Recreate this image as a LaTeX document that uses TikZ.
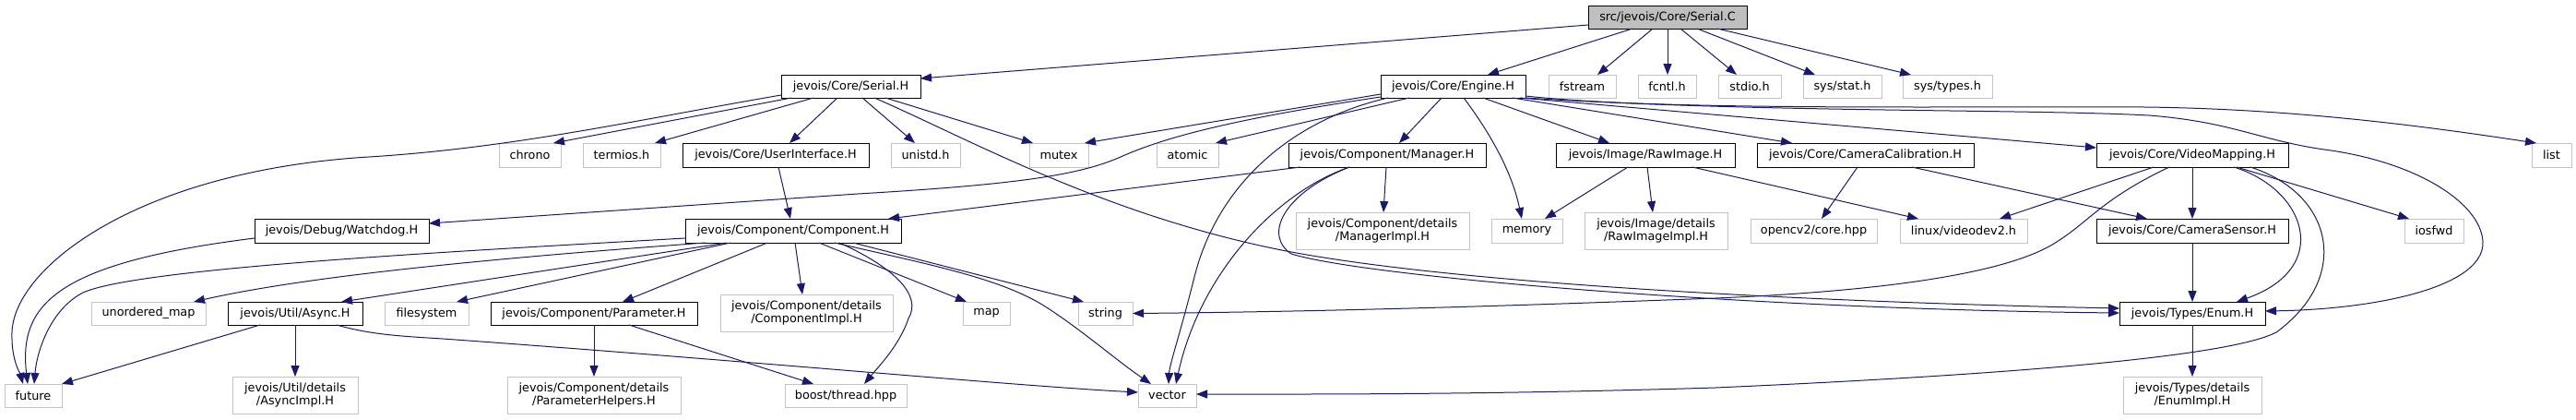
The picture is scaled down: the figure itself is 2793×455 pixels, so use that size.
\documentclass[tikz,border=0pt]{standalone}
\usepackage{fontspec}
\setmainfont{DejaVu Sans}
\usetikzlibrary{arrows.meta}
\definecolor{edgecol}{HTML}{191970}
\definecolor{greyline}{HTML}{C4C4C4}
\definecolor{greyfill}{HTML}{BFBFBF}
\begin{document}
\begin{tikzpicture}[x=1pt,y=-1pt,
  font=\fontsize{12.8}{14.5}\selectfont,
  nb/.style={inner sep=0pt, outer sep=0pt, align=center, fill=white},
  doc/.style={nb, draw=black, line width=0.9pt},
  ext/.style={nb, draw=greyline, line width=1pt},
  mainfile/.style={nb, draw=black, line width=0.9pt, fill=greyfill},
  edge/.style={draw=edgecol, line width=1pt, -{Triangle[length=12pt,width=9pt]}}]
\fill[white] (0,0) rectangle (2793,455);
\useasboundingbox (0,0) rectangle (2793,455);
% row 0
\node[mainfile, minimum width=172, minimum height=25] (serialC) at (1808,18.5) {src/jevois/Core/Serial.C};
% row 1
\node[doc, minimum width=151, minimum height=25] (serialH) at (922.5,93.5) {jevois/Core/Serial.H};
\node[doc, minimum width=157, minimum height=25] (engine) at (1575.5,93.5) {jevois/Core/Engine.H};
\node[ext, minimum width=73, minimum height=25] (fstream) at (1715.5,93.5) {fstream};
\node[ext, minimum width=63, minimum height=25] (fcntl) at (1807.5,93.5) {fcntl.h};
\node[ext, minimum width=68, minimum height=25] (stdio) at (1897,93.5) {stdio.h};
\node[ext, minimum width=85, minimum height=25] (sysstat) at (1997.5,93.5) {sys/stat.h};
\node[ext, minimum width=97, minimum height=25] (systypes) at (2111.5,93.5) {sys/types.h};
% row 2
\node[ext, minimum width=67, minimum height=26] (chrono) at (574.5,168) {chrono};
\node[ext, minimum width=84, minimum height=26] (termios) at (674,168) {termios.h};
\node[doc, minimum width=202, minimum height=26] (ui) at (841,168) {jevois/Core/UserInterface.H};
\node[ext, minimum width=75, minimum height=26] (unistd) at (1003.5,168) {unistd.h};
\node[ext, minimum width=64, minimum height=26] (mutex) at (1148,168) {mutex};
\node[ext, minimum width=67, minimum height=26] (atomic) at (1287.5,168) {atomic};
\node[doc, minimum width=214, minimum height=26] (manager) at (1504,168) {jevois/Component/Manager.H};
\node[doc, minimum width=194, minimum height=26] (rawimage) at (1784,168) {jevois/Image/RawImage.H};
\node[doc, minimum width=235, minimum height=26] (camcal) at (2022.5,168) {jevois/Core/CameraCalibration.H};
\node[doc, minimum width=208, minimum height=26] (videomap) at (2377,168) {jevois/Core/VideoMapping.H};
\node[ext, minimum width=43, minimum height=26] (list) at (2766.5,168) {list};
% row 3
\node[doc, minimum width=189, minimum height=26] (watchdog) at (370.5,250) {jevois/Debug/Watchdog.H};
\node[doc, minimum width=234, minimum height=26] (component) at (860,250) {jevois/Component/Component.H};
\node[ext, minimum width=188, minimum height=40] (managerimpl) at (1499,250) {jevois/Component/details\\/ManagerImpl.H};
\node[ext, minimum width=77, minimum height=26] (memory) at (1655.5,250) {memory};
\node[ext, minimum width=155, minimum height=40] (rawimpl) at (1795.5,250) {jevois/Image/details\\/RawImageImpl.H};
\node[ext, minimum width=137, minimum height=26] (opencv) at (1966.5,250) {opencv2/core.hpp};
\node[ext, minimum width=138, minimum height=26] (videodev) at (2129,250) {linux/videodev2.h};
\node[doc, minimum width=208, minimum height=26] (camsensor) at (2377,250) {jevois/Core/CameraSensor.H};
\node[ext, minimum width=64, minimum height=26] (iosfwd) at (2639,250) {iosfwd};
% row 4
\node[ext, minimum width=124, minimum height=25] (unordered) at (161,339.5) {unordered\_map};
\node[doc, minimum width=146, minimum height=25] (async) at (320,339.5) {jevois/Util/Async.H};
\node[ext, minimum width=91, minimum height=25] (filesystem) at (462.5,339.5) {filesystem};
\node[doc, minimum width=224, minimum height=25] (parameter) at (644,339.5) {jevois/Component/Parameter.H};
\node[ext, minimum width=187, minimum height=40] (compimpl) at (874.5,339) {jevois/Component/details\\/ComponentImpl.H};
\node[ext, minimum width=51, minimum height=25] (map) at (1069.5,339.5) {map};
\node[ext, minimum width=59, minimum height=25] (string) at (1198.5,339.5) {string};
\node[doc, minimum width=158, minimum height=25] (enum) at (2377,339.5) {jevois/Types/Enum.H};
% row 5
\node[ext, minimum width=62, minimum height=25] (future) at (36,428.5) {future};
\node[ext, minimum width=136, minimum height=40] (asyncimpl) at (320,428) {jevois/Util/details\\/AsyncImpl.H};
\node[ext, minimum width=188, minimum height=40] (paramhelpers) at (644,428) {jevois/Component/details\\/ParameterHelpers.H};
\node[ext, minimum width=132, minimum height=25] (boost) at (917,428.5) {boost/thread.hpp};
\node[ext, minimum width=63, minimum height=25] (vector) at (1265.5,428.5) {vector};
\node[ext, minimum width=150, minimum height=40] (enumimpl) at (2377,428) {jevois/Types/details\\/EnumImpl.H};

% ---- edges from Serial.C
\draw[edge] (serialC.west |- 0,27) -- (serialH.east |- 0,85);
\draw[edge] (serialC.south -| 1770,0) -- (engine.north -| 1613,0);
\draw[edge] (serialC.south -| 1792,0) -- (fstream.north -| 1732,0);
\draw[edge] (serialC.south -| 1808,0) -- (fcntl.north -| 1808,0);
\draw[edge] (serialC.south -| 1822,0) -- (stdio.north -| 1883,0);
\draw[edge] (serialC.south -| 1840,0) -- (sysstat.north -| 1968,0);
\draw[edge] (serialC.south -| 1862,0) -- (systypes.north -| 2072,0);
% ---- edges from Serial.H
\draw[edge] (serialH.west |- 0,103) .. controls (700,128) and (560,160) .. (400,170)
  .. controls (150,185) and (15,290) .. (13,360) .. controls (12,390) and (22,405) .. (future.north -| 25,0);
\draw[edge] (serialH.south -| 858,0) -- (chrono.north -| 600,0);
\draw[edge] (serialH.south -| 882,0) -- (termios.north -| 710,0);
\draw[edge] (serialH.south -| 908,0) -- (ui.north -| 856,0);
\draw[edge] (serialH.south -| 935,0) -- (unistd.north -| 992,0);
\draw[edge] (serialH.south -| 960,0) -- (mutex.north -| 1120,0);
\draw[edge] (serialH.south -| 948,0) .. controls (1050,150) and (1200,235) .. (1400,273)
  .. controls (1600,310) and (2000,328) .. (enum.west |- 0,334);
\draw[edge] (ui.south -| 844,0) -- (component.north -| 857,0);
% ---- edges from Engine.H
\draw[edge] (engine.west |- 0,102) -- (mutex.north -| 1176,0);
\draw[edge] (engine.west |- 0,105) .. controls (1330,130) and (1260,150) .. (1215,170)
  .. controls (1170,190) and (1100,200) .. (930,210) -- (watchdog.east |- 0,242);
\draw[edge] (engine.south -| 1528,0) -- (atomic.north -| 1318,0);
\draw[edge] (engine.south -| 1505,0) .. controls (1400,130) and (1320,200) .. (1295,300)
  .. controls (1280,360) and (1268,395) .. (vector.north -| 1267,0);
\draw[edge] (engine.south -| 1563,0) -- (manager.north -| 1517,0);
\draw[edge] (engine.south -| 1587,0) .. controls (1620,150) and (1640,190) .. (memory.north -| 1650,0);
\draw[edge] (engine.south -| 1608,0) -- (rawimage.north -| 1745,0);
\draw[edge] (engine.south -| 1640,0) -- (camcal.north -| 1943,0);
\draw[edge] (engine.south -| 1648,0) -- (videomap.west |- 0,160);
\draw[edge] (engine.east |- 0,104) .. controls (1800,120) and (2100,115) .. (2325,116)
  .. controls (2500,118) and (2650,140) .. (list.north -| 2750,0);
\draw[edge] (engine.east |- 0,106) .. controls (1900,122) and (2200,118) .. (2330,125)
  .. controls (2420,132) and (2450,152) .. (2520,162)
  .. controls (2620,175) and (2690,220) .. (2692,262)
  .. controls (2694,310) and (2580,335) .. (enum.east |- 0,337);
% ---- edges from Manager.H
\draw[edge] (manager.south -| 1410,0) -- (component.north -| 963,0);
\draw[edge] (manager.south -| 1503,0) -- (managerimpl.north -| 1500,0);
\draw[edge] (manager.south -| 1463,0) .. controls (1380,210) and (1300,300) .. (vector.north -| 1275,0);
\draw[edge] (manager.south -| 1463,0) .. controls (1390,210) and (1370,255) .. (1400,275)
  .. controls (1480,300) and (1900,335) .. (enum.west |- 0,339);
% ---- RawImage, CameraCalibration
\draw[edge] (rawimage.south -| 1765,0) -- (memory.north -| 1675,0);
\draw[edge] (rawimage.south -| 1786,0) -- (rawimpl.north -| 1792,0);
\draw[edge] (rawimage.south -| 1835,0) -- (videodev.north -| 2080,0);
\draw[edge] (camcal.south -| 2014,0) -- (opencv.north -| 1975,0);
\draw[edge] (camcal.south -| 2073,0) -- (camsensor.north -| 2328,0);
% ---- VideoMapping
\draw[edge] (videomap.south -| 2335,0) -- (videodev.north -| 2168,0);
\draw[edge] (videomap.south -| 2352,0) .. controls (2280,215) and (2265,240) .. (2230,262)
  .. controls (2180,295) and (2050,315) .. (1860,323)
  .. controls (1600,333) and (1400,338) .. (string.east);
\draw[edge] (videomap.south -| 2377,0) -- (camsensor.north -| 2377,0);
\draw[edge] (videomap.south -| 2422,0) .. controls (2500,205) and (2530,290) .. (enum.north -| 2425,0);
\draw[edge] (videomap.south -| 2440,0) .. controls (2530,210) and (2550,300) .. (2468,360)
  .. controls (2420,385) and (2200,405) .. (1860,420)
  .. controls (1600,428) and (1400,427) .. (vector.east |- 0,427);
\draw[edge] (videomap.south -| 2425,0) -- (iosfwd.north -| 2612,0);
\draw[edge] (camsensor.south) -- (enum.north);
\draw[edge] (enum.south) -- (enumimpl.north);
% ---- Component.H
\draw[edge] (component.west |- 0,258) .. controls (500,272) and (150,290) .. (90,317)
  .. controls (55,335) and (40,380) .. (future.north -| 37,0);
\draw[edge] (component.south -| 765,0) .. controls (600,275) and (350,295) .. (unordered.north -| 210,0);
\draw[edge] (component.south -| 788,0) -- (async.north -| 370,0);
\draw[edge] (component.south -| 792,0) -- (filesystem.north -| 495,0);
\draw[edge] (component.south -| 832,0) -- (parameter.north -| 675,0);
\draw[edge] (component.south -| 862,0) -- (compimpl.north -| 870,0);
\draw[edge] (component.south -| 888,0) -- (map.north -| 1048,0);
\draw[edge] (component.south -| 925,0) -- (string.north -| 1175,0);
\draw[edge] (component.south -| 905,0) .. controls (1000,285) and (1080,300) .. (1130,330)
  .. controls (1170,355) and (1210,390) .. (vector.north -| 1248,0);
\draw[edge] (component.south -| 910,0) .. controls (970,290) and (1000,320) .. (985,345)
  .. controls (975,375) and (950,400) .. (boost.north -| 937,0);
% ---- Watchdog, Async, Parameter
\draw[edge] (watchdog.west |- 0,258) .. controls (60,285) and (20,330) .. (future.north -| 30,0);
\draw[edge] (async.south -| 282,0) -- (future.north east);
\draw[edge] (async.south) -- (asyncimpl.north);
\draw[edge] (async.south -| 365,0) .. controls (400,362) and (430,364) .. (480,367)
  .. controls (800,390) and (1100,418) .. (vector.west |- 0,425);
\draw[edge] (parameter.south) -- (paramhelpers.north);
\draw[edge] (parameter.south -| 682,0) -- (boost.north -| 882,0);
\end{tikzpicture}
\end{document}
